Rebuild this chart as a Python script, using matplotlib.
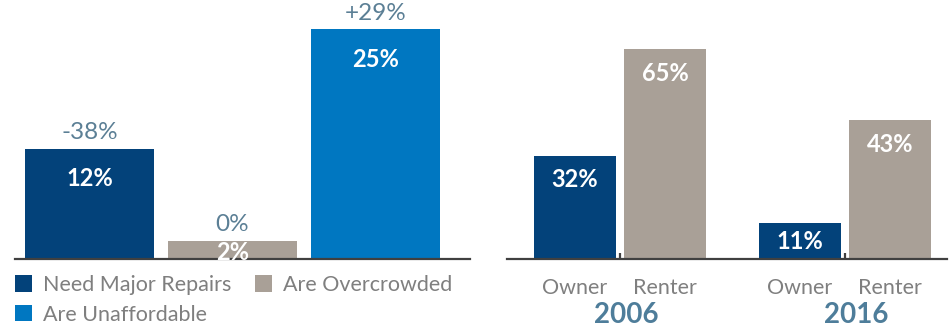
import matplotlib.pyplot as plt

plt.rcParams['font.family'] = ['Lato', 'DejaVu Sans']

# left panel: share of households with each problem, and its change
problems = ['Need Major Repairs', 'Are Overcrowded', 'Are Unaffordable']
problem_share = [12, 2, 25]
problem_change = ['-38%', '0%', '+29%']

# right panel: owners vs renters by year
years = ['2006', '2016']
tenure = ['Owner', 'Renter']
owner_share = [32, 11]
renter_share = [65, 43]

NAVY = '#03427A'
TAUPE = '#A9A097'
BLUE = '#0077C1'
GRAY = '#7F7F7F'
SLATE = '#5B7F95'
YEAR_BLUE = '#4E7D9A'
AXIS = '#404040'

W, H = 951, 331
fig = plt.figure(figsize=(W / 100, H / 100), dpi=100)

base = 259   # baseline, pixels from top
PT = 72 / 100  # points per pixel


def axes_px(left, right):
    return fig.add_axes([left / W, 1 - base / H, (right - left) / W, base / H])


def clean(ax):
    for s in ['top', 'right', 'left']:
        ax.spines[s].set_visible(False)
    ax.spines['bottom'].set_color(AXIS)
    ax.spines['bottom'].set_linewidth(1.6)
    ax.set_yticks([])


# ---- left panel ----
ax1 = axes_px(15, 470)
clean(ax1)
colors1 = [NAVY, TAUPE, BLUE]
x1 = range(len(problems))
bars1 = ax1.bar(x1, problem_share, width=0.9, color=colors1, label=problems)
ax1.set_xlim(-0.521, 2.661)
ax1.set_ylim(0, 28.2)
ax1.set_xticks([])
px1 = base / 28.2  # pixels per percent

for i, v in enumerate(problem_share):
    ax1.annotate(problem_change[i], (i, v), xytext=(0, 4), textcoords='offset points',
                 ha='center', va='bottom', fontsize=17.5, color=SLATE)
    off = min(30, v * px1 / 2 + 3)
    ax1.annotate(f'{v}%', (i, v), xytext=(0, -off * PT), textcoords='offset points',
                 ha='center', va='center', fontsize=17, color='white', fontweight='bold')

handles = [bars1[0], bars1[2], bars1[1]]
labels = [problems[0], problems[2], problems[1]]
fig.legend(handles, labels, loc='upper left', bbox_to_anchor=(15 / W, 1 - 275 / H),
           ncol=2, frameon=False, fontsize=15.5, borderpad=0, borderaxespad=0,
           handlelength=0.8, handleheight=0.8, handletextpad=0.5,
           columnspacing=1.1, labelspacing=0.45, labelcolor=GRAY)

# ---- right panel ----
ax2 = axes_px(507, 947)
clean(ax2)
group_x = [0.0, 2.5]
own_x = [g for g in group_x]
rent_x = [g + 1 for g in group_x]
ax2.bar(own_x, owner_share, width=0.911, color=NAVY)
ax2.bar(rent_x, renter_share, width=0.911, color=TAUPE)
ax2.set_xlim(-0.756, 4.133)
ax2.set_ylim(0, 80.2)
ax2.set_xticks([g + 0.5 for g in group_x])
ax2.set_xticklabels([])
ax2.tick_params(axis='x', direction='in', length=4, width=1.6, color=AXIS)
px2 = base / 80.2

for xs, vals in [(own_x, owner_share), (rent_x, renter_share)]:
    for x, v in zip(xs, vals):
        off = min(24, v * px2 / 2)
        ax2.annotate(f'{v}%', (x, v), xytext=(0, -off * PT), textcoords='offset points',
                     ha='center', va='center', fontsize=17, color='white', fontweight='bold')

year_shift = [6, 11]  # pixels
for g, yr, s in zip(group_x, years, year_shift):
    for k, t in enumerate(tenure):
        ax2.annotate(t, (g + k, 0), xycoords=('data', 'axes fraction'), xytext=(0, -29 * PT),
                     textcoords='offset points', ha='center', va='center', fontsize=15.5, color=GRAY)
    ax2.annotate(yr, (g + 0.5, 0), xycoords=('data', 'axes fraction'), xytext=(s * PT, -56 * PT),
                 textcoords='offset points', ha='center', va='center', fontsize=20,
                 color=YEAR_BLUE, fontweight='bold')

fig.savefig('out.png', dpi=100)
